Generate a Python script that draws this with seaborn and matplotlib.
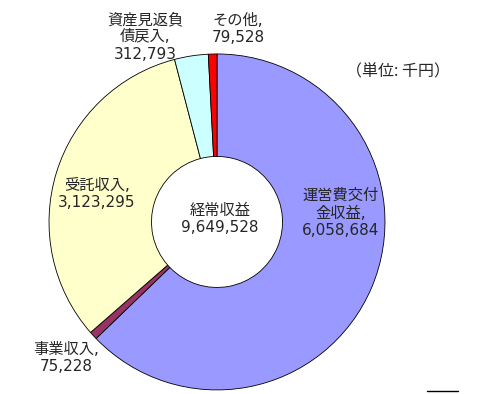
import matplotlib
matplotlib.use("Agg")
import matplotlib.pyplot as plt
import seaborn as sns
from matplotlib.lines import Line2D

labels = ["運営費交付\n金収益", "事業収入", "受託収入", "資産見返負\n債戻入", "その他"]
values = [6058684, 75228, 3123295, 312793, 79528]
colors = ["#9999FF", "#993366", "#FFFFCC", "#CCFFFF", "#FF0000"]
total_label = "経常収益"
unit_label = "（単位: 千円）"

sns.set_style("white")
plt.rcParams['font.family'] = ['DejaVu Sans', 'Noto Sans CJK JP']

fig = plt.figure(figsize=(4.82, 3.94), dpi=100)
ax = fig.add_axes([0.1017, 0.0102, 0.697, 0.853])

ax.pie(values, colors=colors, startangle=90, counterclock=False,
       wedgeprops=dict(width=0.61, edgecolor="black", linewidth=0.6))
ax.set_xlim(-1, 1)
ax.set_ylim(-1, 1)
ax.set_aspect("equal")
ax.axis("off")

def px(x, y):
    # pixel position in reference -> data coords
    return (x - 217) / 168, (222 - y) / 168

fs = 11
pos = [(341, 213), (66, 358), (97, 194), (145, 37), (238, 29)]
for (x, y), lab, v in zip(pos, labels, values):
    tx, ty = px(x, y)
    ax.text(tx, ty, f"{lab},\n{v:,}", ha="center", va="center",
            fontsize=fs, linespacing=1.2, clip_on=False)

tx, ty = px(220, 219)
ax.text(tx, ty, f"{total_label}\n{sum(values):,}", ha="center", va="center",
        fontsize=fs, linespacing=1.2)

fig.text(398 / 482, 1 - 72 / 394, unit_label, ha="center", va="center",
         fontsize=11.5, family=['Noto Sans CJK JP', 'DejaVu Sans'])
fig.add_artist(Line2D([427 / 482, 458 / 482], [1 - 391 / 394, 1 - 391 / 394],
                      color="black", linewidth=1))

fig.savefig("out.png", dpi=100)
